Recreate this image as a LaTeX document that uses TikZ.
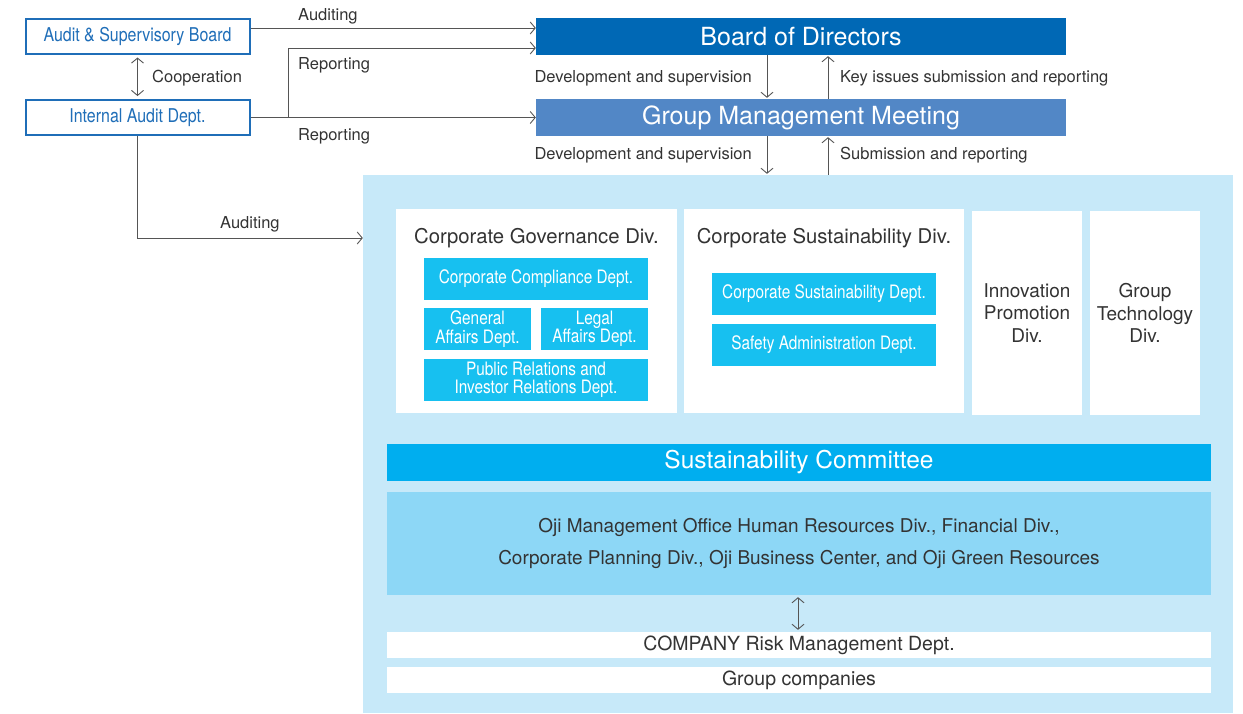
\documentclass[tikz,border=0pt]{standalone}
\usepackage{fontspec}
\setmainfont{TeX Gyre Heros}
\newfontfamily\narrowfont[FakeStretch=0.84]{TeX Gyre Heros}
\newfontfamily\deptfont[FakeStretch=0.83]{TeX Gyre Heros}
\newcommand\tightlines{\lineskiplimit=-20pt\relax}
\usetikzlibrary{arrows.meta}

\definecolor{bodblue}{HTML}{0068B5}
\definecolor{gmmblue}{HTML}{5287C6}
\definecolor{auditblue}{HTML}{1F6EB8}
\definecolor{deptcyan}{HTML}{17C0F0}
\definecolor{cmtblue}{HTML}{00AEEF}
\definecolor{ojiblue}{HTML}{8DD7F6}
\definecolor{regionblue}{HTML}{C7E9F9}
\definecolor{textgray}{HTML}{333333}
\definecolor{linegray}{HTML}{555555}

\begin{document}
\begin{tikzpicture}[x=1pt, y=-1pt,
    conn/.style={draw=linegray, line width=0.9pt, -{Straight Barb[length=5pt, width=12pt]}},
    dconn/.style={draw=linegray, line width=0.9pt, {Straight Barb[length=5pt, width=12pt]}-{Straight Barb[length=5pt, width=12pt]}},
    lbl/.style={text=textgray, font=\fontsize{16.5}{18}\selectfont, inner sep=0pt},
    topbox/.style={text=white, inner sep=0pt, minimum width=530, minimum height=37, font=\fontsize{25}{27}\selectfont},
    auditbox/.style={draw=auditblue, line width=2pt, fill=white, text=auditblue, inner sep=0pt,
        minimum width=224, minimum height=35, font=\narrowfont\fontsize{19}{21}\selectfont},
    divbox/.style={fill=white, inner sep=0pt, minimum height=204, text=textgray},
    deptbox/.style={fill=deptcyan, text=white, inner sep=0pt, minimum height=42, align=center,
        font=\deptfont\fontsize{18.5}{18.5}\selectfont\tightlines},
    widebox/.style={inner sep=0pt, minimum width=824, align=center}]
    \useasboundingbox (0,0) rectangle (1243,713);

    % Group area
    \node[fill=regionblue, inner sep=0pt, minimum width=870, minimum height=538] (group) at (798,444) {};

    % Top bodies
    \node[topbox, fill=bodblue] (bod) at (801,36.5) {Board of Directors};
    \node[topbox, fill=gmmblue] (gmm) at (801,117.5) {Group Management Meeting};
    \node[auditbox] (asb) at (137.5,36) {Audit \& Supervisory Board};
    \node[auditbox] (iad) at (137.5,117.5) {Internal Audit Dept.};

    % Audit lines
    \draw[conn] ([yshift=8pt]asb.east) -- ([yshift=8pt]asb.east -| bod.west);
    \coordinate (fork) at (288,117.5);
    \draw[conn] (iad.east) -- (gmm.west);
    \draw[conn] (fork) |- ([yshift=-11.5pt]bod.west);
    \draw[conn] (iad.south) |- (group.west |- 0,238);
    \draw[dconn] ([yshift=-3pt]asb.south) -- ([yshift=3pt]iad.north);
    \node[lbl, anchor=west] (coop) at (152,78) {Cooperation};
    \node[lbl, anchor=west] (aud1) at (298,16.5) {Auditing};
    \node[lbl, anchor=west] (rep1) at (298,65.5) {Reporting};
    \node[lbl, anchor=west] (rep2) at (298,136.5) {Reporting};
    \node[lbl, anchor=west] (aud2) at (220,224.5) {Auditing};

    % Management lines
    \foreach \top/\bot in {bod/gmm, gmm/group} {
        \draw[conn] (\top.south -| 767,0) -- ([yshift=1pt]\bot.north -| 767,0);
        \draw[conn] (\bot.north -| 828,0) -- ([yshift=-1pt]\top.south -| 828,0);
    }
    \node[lbl, anchor=east] (dev1) at (752,78.5) {Development and supervision};
    \node[lbl, anchor=west] (key) at (840,78.5) {Key issues submission and reporting};
    \node[lbl, anchor=east] (dev2) at (752,155.5) {Development and supervision};
    \node[lbl, anchor=west] (sub) at (840,155.5) {Submission and reporting};

    % Divisions
    \node[divbox, minimum width=281] (cgd) at (536.5,311) {};
    \node[divbox, minimum width=280] (csd) at (824,311) {};
    \node[divbox, minimum width=110, align=center, font=\fontsize{19}{22.5}\selectfont] (ipd) at (1027,313) {Innovation\\Promotion\\Div.};
    \node[divbox, minimum width=110, align=center, font=\fontsize{19}{22.5}\selectfont] (gtd) at (1145,313) {Group\\Technology\\Div.};
    \node[lbl, font=\fontsize{20.3}{22}\selectfont] (cgdt) at (536.5,238) {Corporate Governance Div.};
    \node[lbl, font=\fontsize{20.3}{22}\selectfont] (csdt) at (824,238) {Corporate Sustainability Div.};

    % Departments
    \node[deptbox, minimum width=224] (ccd) at (536,279) {Corporate Compliance Dept.};
    \node[deptbox, minimum width=107] (gad) at (477.5,329) {General\\Affairs Dept.};
    \node[deptbox, minimum width=107] (lad) at (594.5,329) {Legal\\Affairs Dept.};
    \node[deptbox, minimum width=224] (prd) at (536,380) {Public Relations and\\Investor Relations Dept.};
    \node[deptbox, minimum width=224] (csdd) at (824,294) {Corporate Sustainability Dept.};
    \node[deptbox, minimum width=224] (sad) at (824,345) {Safety Administration Dept.};

    % Committee and below
    \node[widebox, fill=cmtblue, text=white, minimum height=37, font=\fontsize{24.5}{26}\selectfont] (cmt) at (799,462.5) {Sustainability Committee};
    \node[widebox, fill=ojiblue, text=textgray, minimum height=103, font=\fontsize{19}{32}\selectfont] (oji) at (799,543.5)
        {Oji Management Office Human Resources Div., Financial Div.,\\Corporate Planning Div., Oji Business Center, and Oji Green Resources};
    \node[widebox, fill=white, text=textgray, minimum height=26, font=\fontsize{19.5}{21}\selectfont] (risk) at (799,645) {COMPANY Risk Management Dept.};
    \node[widebox, fill=white, text=textgray, minimum height=26, font=\fontsize{19.5}{21}\selectfont] (grp) at (799,680) {Group companies};
    \draw[dconn] ([yshift=-2pt]oji.south -| 798,0) -- ([yshift=2pt]risk.north -| 798,0);
\end{tikzpicture}
\end{document}
